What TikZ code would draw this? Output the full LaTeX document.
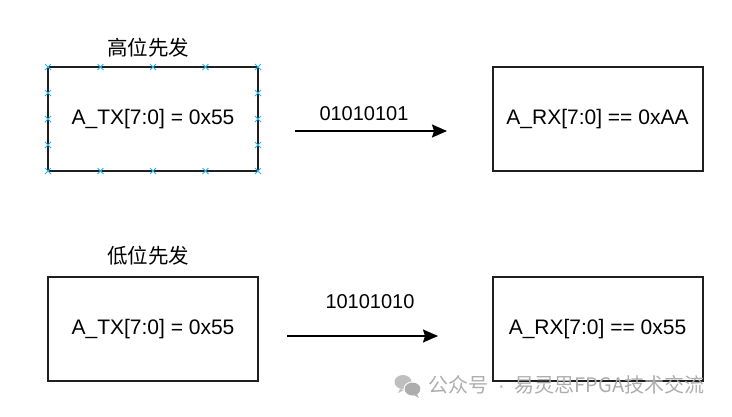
\documentclass[tikz,border=0pt]{standalone}
\usepackage{fontspec}
\setmainfont{Liberation Sans}
\newfontfamily\cjk{Noto Sans CJK SC}
\usetikzlibrary{arrows.meta}
\tikzset{
  blk/.style={draw=black!88, line width=2pt, minimum width=210pt, minimum height=104pt, inner sep=0pt, font=\fontsize{21}{25}\selectfont},
  lbl/.style={font=\cjk\fontsize{20.5}{24}\selectfont, inner sep=0pt},
  bits/.style={font=\fontsize{20}{24}\selectfont, inner sep=0pt},
  conn/.style={draw=black, line width=1.6pt, -{Stealth[inset=2pt,length=15pt,width=13pt]}},
  handle/.style={draw={rgb,255:red,41;green,182;blue,242}, line width=1pt},
  wm/.style={font=\cjk\fontsize{20}{24}\selectfont, text=black!32, inner sep=0pt}
}
\begin{document}
\begin{tikzpicture}[x=1pt,y=-1pt]
\useasboundingbox (0,0) rectangle (732,416);
% top row
\node[blk] (tx1) at (153,119) {A\_TX[7:0] = 0x55};
\node[blk] (rx1) at (597.5,119) {A\_RX[7:0] == 0xAA};
\node[lbl] (h1) at (148,48) {高位先发};
\coordinate (a1s) at (295,131);
\coordinate (a1e) at (447,131);
\draw[conn] (a1s) -- (a1e);
\node[bits] (b1) at (364,114) {01010101};
% selection handles
\foreach \x in {48,100.5,153,205.5,258} {
  \foreach \y in {67,171} {
    \draw[handle] (\x-3,\y-3) -- (\x+3,\y+3) (\x-3,\y+3) -- (\x+3,\y-3);
  }
}
\foreach \x in {48,258} {
  \foreach \y in {93,119,145} {
    \draw[handle] (\x-3,\y-3) -- (\x+3,\y+3) (\x-3,\y+3) -- (\x+3,\y-3);
  }
}
% bottom row
\node[blk] (tx2) at (153,329) {A\_TX[7:0] = 0x55};
\node[blk] (rx2) at (597.5,329) {A\_RX[7:0] == 0x55};
\node[lbl] (h2) at (148,256) {低位先发};
\coordinate (a2s) at (287,336);
\coordinate (a2e) at (438,336);
\draw[conn] (a2s) -- (a2e);
\node[bits] (b2) at (370,302) {10101010};
% watermark
\fill[black!25] (403,382) ellipse (8.5pt and 7pt);
\fill[black!25] (400,389) -- (398,393) -- (404,390) -- cycle;
\fill[white] (412.5,389) ellipse (9pt and 7.5pt);
\fill[black!32] (412.5,389) ellipse (7.8pt and 6.5pt);
\fill[black!32] (417,394) -- (419,398) -- (414,395) -- cycle;
\node[wm, anchor=west] (wmt) at (428,385) {公众号\hspace{10pt}{\fontspec{Liberation Sans}\textperiodcentered}\hspace{10pt}易灵思FPGA技术交流};
\end{tikzpicture}
\end{document}
